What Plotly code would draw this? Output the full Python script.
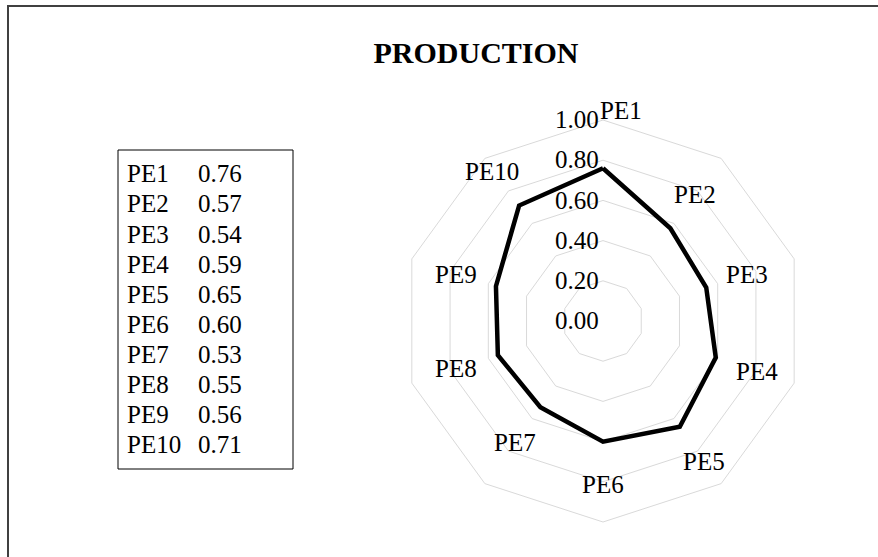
import plotly.graph_objects as go

# Production indicators and their scores
categories = ["PE1", "PE2", "PE3", "PE4", "PE5", "PE6", "PE7", "PE8", "PE9", "PE10"]
scores = [0.76, 0.57, 0.54, 0.59, 0.65, 0.60, 0.53, 0.55, 0.56, 0.71]
radial_ticks = [0.0, 0.2, 0.4, 0.6, 0.8, 1.0]

# Where each category label sits (pixel centres)
label_pos = [(621, 108), (695, 192), (747, 272), (757, 369), (704, 459),
             (603, 482), (515, 440), (456, 366), (456, 272), (492, 169)]

W, H = 878, 557
FONT = "Liberation Serif, Times New Roman, serif"
FS = 25

fig = go.Figure()

# Closed outline through all indicators
fig.add_trace(go.Scatterpolar(
    r=scores + scores[:1],
    theta=categories + categories[:1],
    mode="lines",
    line=dict(color="black", width=4.5),
    hoverinfo="skip",
    showlegend=False,
))

# Radar area geometry (pixels)
cx, cy, rad = 603, 321, 201

fig.update_layout(
    width=W, height=H,
    margin=dict(l=0, r=0, t=0, b=0),
    paper_bgcolor="white",
    plot_bgcolor="white",
    font=dict(family=FONT, color="black", size=FS),
    title=dict(text="<b>PRODUCTION</b>", x=476 / W, xanchor="center",
               y=1 - 52 / H, yanchor="middle",
               font=dict(family=FONT, size=30, color="black")),
    polar=dict(
        domain=dict(x=[(cx - rad) / W, (cx + rad) / W],
                    y=[(H - cy - rad) / H, (H - cy + rad) / H]),
        gridshape="linear",
        bgcolor="white",
        angularaxis=dict(
            direction="clockwise", rotation=90,
            showgrid=False, showline=True, linecolor="#d9d9d9", linewidth=1,
            ticks="", showticklabels=False,
        ),
        radialaxis=dict(
            range=[0, 1], tickvals=radial_ticks, tickformat=".2f",
            angle=90, tickangle=90, side="counterclockwise",
            showline=False, ticks="",
            gridcolor="#d9d9d9", gridwidth=1,
            tickfont=dict(family=FONT, size=FS, color="black"),
        ),
    ),
)

# Category labels around the radar
for name, (px, py) in zip(categories, label_pos):
    fig.add_annotation(xref="paper", yref="paper", x=px / W, y=1 - (py + 2) / H,
                       text=name, showarrow=False, xanchor="center", yanchor="middle",
                       font=dict(family=FONT, size=FS, color="black"))

# Value table on the left
box_x0, box_x1, box_y0, box_y1 = 118, 293, 150, 469
fig.add_shape(type="rect", xref="paper", yref="paper",
              x0=box_x0 / W, x1=box_x1 / W,
              y0=1 - box_y1 / H, y1=1 - box_y0 / H,
              line=dict(color="black", width=1), fillcolor="rgba(0,0,0,0)")
row0, step = 174, 30
for i, (name, val) in enumerate(zip(categories, scores)):
    yy = 1 - (row0 + i * step) / H
    fig.add_annotation(xref="paper", yref="paper", x=125 / W, y=yy,
                       text=name, showarrow=False, xanchor="left", yanchor="middle",
                       font=dict(family=FONT, size=FS, color="black"))
    fig.add_annotation(xref="paper", yref="paper", x=196 / W, y=yy,
                       text=f"{val:.2f}", showarrow=False, xanchor="left", yanchor="middle",
                       font=dict(family=FONT, size=FS, color="black"))

# Frame lines along the top and left edges
fig.add_shape(type="line", xref="paper", yref="paper",
              x0=7 / W, x1=1, y0=1 - 6 / H, y1=1 - 6 / H,
              line=dict(color="#404040", width=2))
fig.add_shape(type="line", xref="paper", yref="paper",
              x0=8 / W, x1=8 / W, y0=0, y1=1 - 6 / H,
              line=dict(color="#404040", width=2))

fig.write_html("out.html")
